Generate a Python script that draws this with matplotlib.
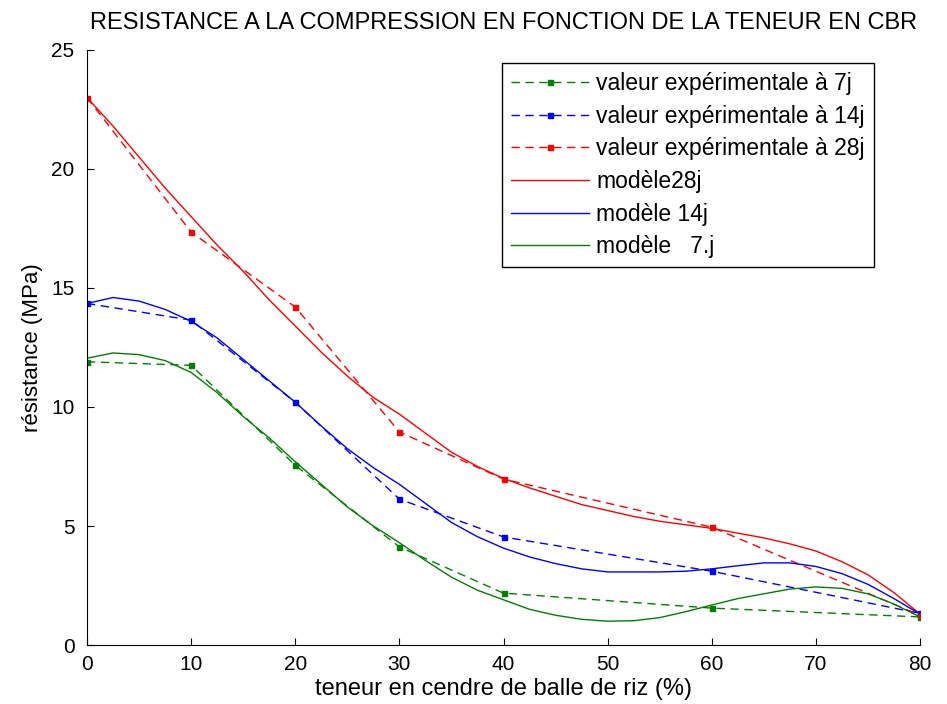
import matplotlib
matplotlib.use("Agg")
import matplotlib.pyplot as plt

plt.rcParams['font.family'] = ['Liberation Sans', 'DejaVu Sans']

# experimental values
x_exp = [0, 10, 20, 30, 40, 60, 80]
exp_7j = [11.9, 11.75, 7.55, 4.12, 2.18, 1.55, 1.18]
exp_14j = [14.35, 13.65, 10.2, 6.13, 4.54, 3.1, 1.33]
exp_28j = [23.0, 17.35, 14.2, 8.95, 6.97, 4.95, 1.25]

# model curves
x_mod = [0, 2.5, 5, 7.5, 10, 12.5, 15, 17.5, 20, 22.5, 25, 27.5, 30, 32.5, 35, 37.5,
         40, 42.5, 45, 47.5, 50, 52.5, 55, 57.5, 60, 62.5, 65, 67.5, 70, 72.5, 75, 77.5, 80]
mod_28j = [23.0, 21.8, 20.5, 19.2, 18.0, 16.8, 15.7, 14.5, 13.4, 12.3, 11.3, 10.4, 9.7, 8.9, 8.1, 7.5,
           7.0, 6.6, 6.25, 5.9, 5.65, 5.4, 5.2, 5.05, 4.9, 4.7, 4.5, 4.25, 3.95, 3.5, 2.95, 2.2, 1.3]
mod_14j = [14.35, 14.6, 14.45, 14.1, 13.6, 12.9, 12.0, 11.1, 10.2, 9.2, 8.25, 7.45, 6.75, 5.95, 5.15, 4.55,
           4.07, 3.7, 3.42, 3.2, 3.07, 3.07, 3.07, 3.1, 3.2, 3.33, 3.45, 3.45, 3.3, 3.0, 2.55, 1.95, 1.3]
mod_7j = [12.05, 12.27, 12.2, 11.95, 11.45, 10.6, 9.6, 8.7, 7.7, 6.75, 5.8, 5.0, 4.3, 3.55, 2.85, 2.3,
          1.9, 1.5, 1.25, 1.08, 1.0, 1.02, 1.15, 1.4, 1.68, 1.95, 2.15, 2.35, 2.44, 2.38, 2.15, 1.72, 1.18]

green = (0, 0.5, 0)
blue = (0, 0, 1)
red = (1, 0, 0)

fig = plt.figure(figsize=(9.47, 7.04), dpi=100)
ax = fig.add_axes([0.0919, 0.0838, 0.8796, 0.8452])

dash = (6, 4)
ax.plot(x_exp, exp_7j, '--', color=green, marker='s', markersize=3.6, lw=1, dashes=dash,
        label='valeur expérimentale à 7j')
ax.plot(x_exp, exp_14j, '--', color=blue, marker='s', markersize=3.6, lw=1, dashes=dash,
        label='valeur expérimentale à 14j')
ax.plot(x_exp, exp_28j, '--', color=red, marker='s', markersize=3.6, lw=1, dashes=dash,
        label='valeur expérimentale à 28j')
ax.plot(x_mod, mod_28j, '-', color=red, lw=1, label='modèle28j')
ax.plot(x_mod, mod_14j, '-', color=blue, lw=1, label='modèle 14j')
ax.plot(x_mod, mod_7j, '-', color=green, lw=1, label='modèle   7.j')

ax.set_xlim(0, 80)
ax.set_ylim(0, 25)
ax.set_xticks(range(0, 81, 10))
ax.set_yticks(range(0, 26, 5))
ax.spines['top'].set_visible(False)
ax.spines['right'].set_visible(False)
ax.tick_params(direction='in', length=5, labelsize=15)
ax.tick_params(axis='y', pad=9)
ax.tick_params(axis='x', pad=7)
ax.set_xlabel('teneur en cendre de balle de riz (%)', fontsize=17, labelpad=3)
ax.set_ylabel('résistance (MPa)', fontsize=16, labelpad=6)
ax.set_title('RESISTANCE A LA COMPRESSION EN FONCTION DE LA TENEUR EN CBR',
             fontsize=17, pad=15)

leg = ax.legend(loc='upper left', bbox_to_anchor=(502 / 947, 1 - 63 / 704),
                bbox_transform=fig.transFigure, borderaxespad=0, fontsize=16.5,
                handlelength=3.4, numpoints=1, fancybox=False, framealpha=1,
                edgecolor='black', borderpad=0.4, labelspacing=0.42, handletextpad=0.3)
leg.get_frame().set_linewidth(1)

fig.savefig('out.png', dpi=100)
